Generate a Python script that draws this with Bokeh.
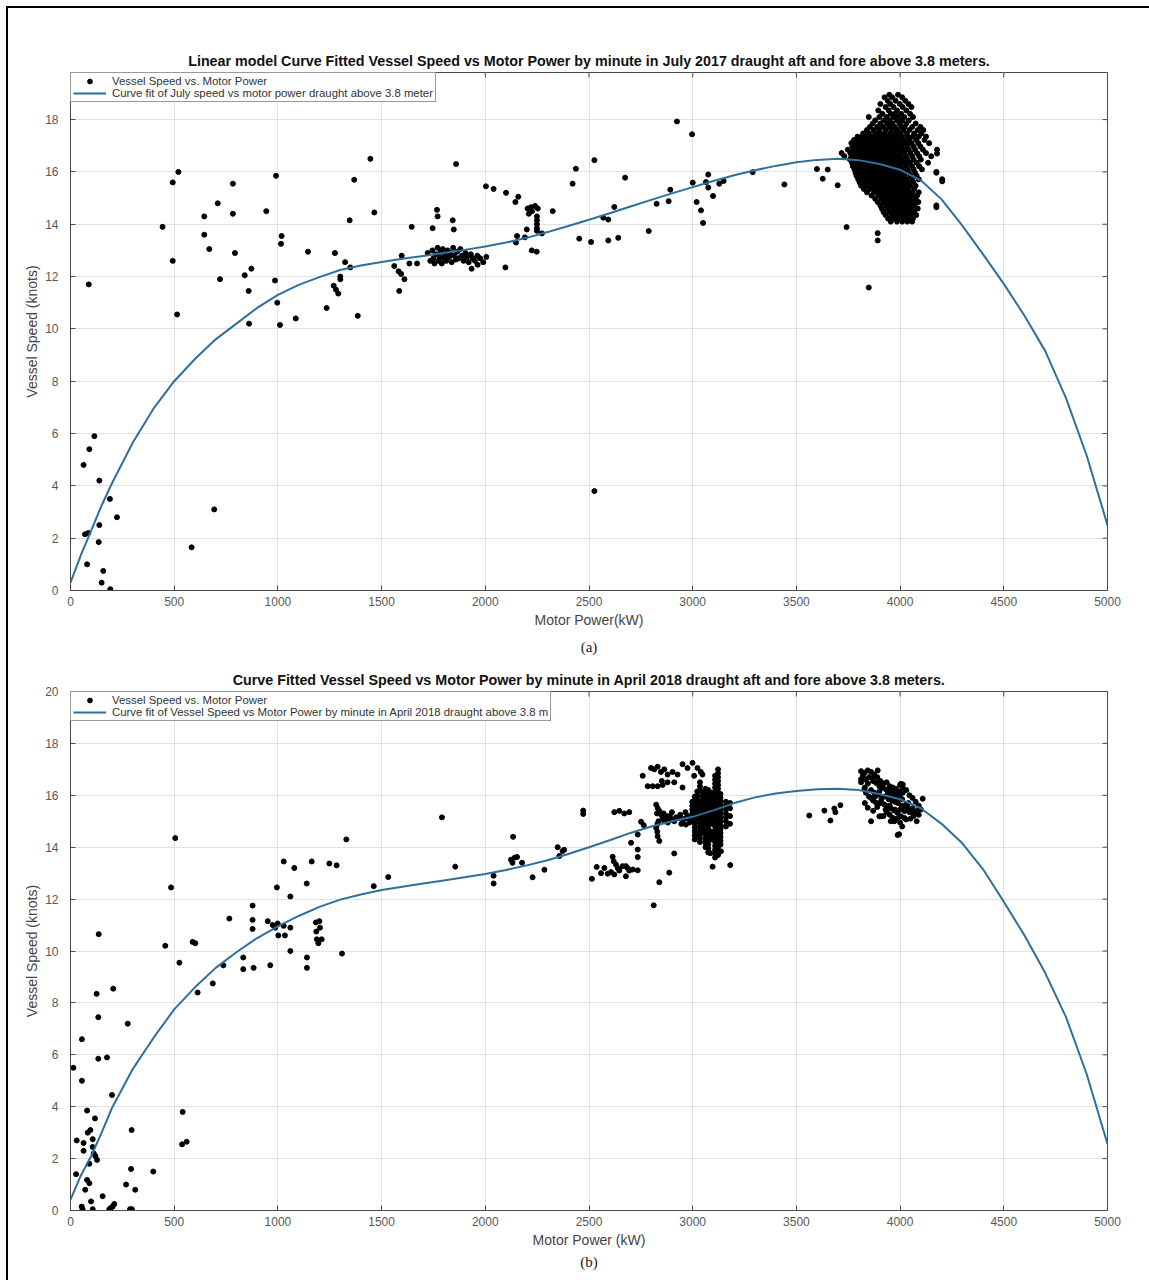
from bokeh.plotting import figure
from bokeh.models import Legend, LegendItem, Title, FixedTicker, Range1d
from bokeh.layouts import column
from bokeh.embed import file_html
from bokeh.resources import INLINE

# ---------------- shared ticks / texts ----------------
x_ticks = [0, 500, 1000, 1500, 2000, 2500, 3000, 3500, 4000, 4500, 5000]
a_y_ticks = [0, 2, 4, 6, 8, 10, 12, 14, 16, 18]
b_y_ticks = [0, 2, 4, 6, 8, 10, 12, 14, 16, 18, 20]

a_title = "Linear model Curve Fitted Vessel Speed vs Motor Power by minute in July 2017 draught aft and fore above 3.8 meters."
a_leg_pts = "Vessel Speed vs. Motor Power"
a_leg_fit = "Curve fit of July speed vs motor power draught above 3.8 meter"
a_xlabel = "Motor Power(kW)"
b_title = "Curve Fitted Vessel Speed vs Motor Power by minute in April 2018 draught aft and fore above 3.8 meters."
b_leg_pts = "Vessel Speed vs. Motor Power"
b_leg_fit = "Curve fit of Vessel Speed vs Motor Power by minute in April 2018 draught above 3.8 m"
b_xlabel = "Motor Power (kW)"
y_label = "Vessel Speed (knots)"

# ---------------- panel (a): July 2017 ----------------
a_power = [88, 63, 91, 115, 139, 190, 224, 139, 70, 86, 136, 80, 158, 150, 192, 584, 693,
           444, 493, 520, 493, 514, 645, 645, 669, 710, 721, 783, 783, 793, 840, 872, 859, 861,
           944, 991, 986, 997, 1010, 1018, 1015, 1086, 1145, 1235, 1275, 1269, 1280, 1291, 1301,
           1301, 1324, 1346, 1368, 1349, 1385, 1446, 1465, 1561, 1582, 1594, 1610, 1585, 1597,
           1645, 1634, 1671, 1746, 1767, 1770, 1843, 1848, 1859,
           1722, 1735, 1745, 1750, 1755, 1762, 1770, 1775, 1780, 1785, 1790, 1795, 1800, 1805,
           1812, 1818, 1825, 1830, 1838, 1845, 1850, 1858, 1865, 1872, 1880, 1888, 1895, 1905,
           1912, 1920, 1930, 1940, 1950, 1962, 1975, 1990, 2005,
           1934, 1963, 2003, 2040, 2100, 2097, 2145, 2159, 2148, 2153, 2191, 2200, 2204, 2220,
           2240, 2253, 2210, 2225, 2249, 2249, 2249, 2249, 2249, 2224, 2248, 2273, 2325, 2421,
           2437, 2453, 2510, 2526, 2526, 2569, 2593, 2593, 2641, 2622, 2674, 2788, 2826, 2884,
           2892, 2924, 2997, 3000, 3019, 3040, 3050, 3064, 3075, 3075, 3098, 3128, 3149, 3289,
           3442, 3599, 3627, 3651, 3699, 3742, 3849, 3892, 3892, 4178, 4175, 4203, 4175]
a_speed = [11.7, 4.8, 5.4, 5.9, 4.2, 3.5, 2.8, 2.5, 2.15, 2.2, 1.85, 1.0, 0.75, 0.3, 0.05, 1.65, 3.1,
           13.9, 15.6, 16.0, 12.6, 10.55, 14.3, 13.6, 13.05, 14.8, 11.9, 15.55, 14.4, 12.9, 12.05, 12.3, 11.45, 10.2,
           14.5, 15.85, 11.85, 11.0, 10.15, 13.55, 13.25, 10.4, 12.95, 10.8, 12.9, 11.65, 11.5, 11.35, 12.0,
           11.9, 12.55, 14.15, 15.7, 12.35, 10.5, 16.5, 14.45, 12.4, 12.2, 12.1, 11.9, 11.45, 12.8,
           13.9, 12.5, 12.5, 13.85, 14.55, 14.3, 14.15, 13.8, 16.3,
           12.9, 12.6, 13.0, 12.7, 12.5, 12.85, 13.1, 12.6, 12.75, 12.95, 12.5, 13.05, 12.7, 12.85,
           12.6, 13.0, 12.75, 12.9, 12.55, 13.1, 12.8, 12.65, 12.95, 12.7, 13.05, 12.8, 12.6, 12.9,
           12.75, 12.55, 12.85, 12.7, 12.6, 12.8, 12.7, 12.55, 12.75,
           12.3, 12.45, 15.45, 15.35, 15.2, 12.35, 14.85, 15.05, 13.3, 13.55, 13.5, 13.8, 14.6, 14.65,
           14.7, 14.6, 14.4, 14.5, 14.3, 14.15, 14.0, 13.85, 13.75, 13.0, 12.95, 13.65, 14.5, 15.55,
           16.12, 13.45, 13.32, 16.45, 3.8, 14.25, 14.18, 13.38, 13.48, 14.66, 15.78, 13.74, 14.78, 14.88,
           15.32, 17.93, 17.44, 15.59, 14.85, 14.53, 14.05, 15.61, 15.9, 15.4, 15.08, 15.55, 15.65, 15.99,
           15.52, 16.11, 15.74, 16.09, 15.49, 13.89, 11.58, 13.66, 13.38, 16.7, 16.0, 15.64, 14.65]

# dense cluster of panel (a) near 3700-4200 kW, read row by row
a_cluster_speed = [18.95, 18.85, 18.72, 18.6, 18.48, 18.35, 18.22, 18.1, 17.97, 17.85, 17.72,
                   17.6, 17.47, 17.35, 17.22, 17.1, 16.97, 16.85, 16.72, 16.6, 16.47, 16.35,
                   16.22, 16.1, 15.97, 15.85, 15.72, 15.6, 15.47, 15.35, 15.22, 15.1, 14.97,
                   14.85, 14.72, 14.6, 14.47, 14.35, 14.22, 14.1]
a_cluster_power = [
    [3948, 3990],
    [3925, 3962, 4010],
    [3940, 3978, 4025],
    [3905, 3952, 3998, 4040],
    [3930, 3968, 4012, 4055],
    [3895, 3945, 3985, 4030],
    [3915, 3955, 3975, 4005, 4048],
    [3849, 3900, 3935, 3968, 3992, 4020, 4062],
    [3880, 3922, 3950, 3983, 4010, 4042],
    [3868, 3905, 3938, 3962, 3998, 4030, 4075],
    [3855, 3890, 3918, 3948, 3975, 4005, 4022, 4058, 4098],
    [3840, 3872, 3900, 3930, 3958, 3985, 4015, 4045, 4085, 4112],
    [3822, 3850, 3880, 3905, 3925, 3952, 3978, 4002, 4032, 4068, 4102],
    [3795, 3818, 3842, 3865, 3888, 3912, 3936, 3960, 3985, 4010, 4038, 4062, 4090, 4125],
    [3778, 3805, 3828, 3850, 3872, 3896, 3918, 3942, 3968, 3992, 4018, 4045, 4078, 4118],
    [3765, 3790, 3812, 3835, 3858, 3880, 3902, 3925, 3950, 3975, 4000, 4028, 4055, 4088, 4140],
    [3770, 3795, 3818, 3842, 3865, 3888, 3910, 3935, 3958, 3982, 4008, 4035, 4065, 4098],
    [3748, 3775, 3800, 3822, 3845, 3870, 3892, 3915, 3940, 3965, 3990, 4015, 4042, 4072, 4110, 4178],
    [3718, 3760, 3783, 3806, 3828, 3852, 3875, 3898, 3922, 3946, 3970, 3995, 4022, 4050, 4082, 4125],
    [3731, 3765, 3790, 3812, 3835, 3858, 3880, 3905, 3928, 3952, 3976, 4000, 4028, 4058, 4092, 4150],
    [3758, 3778, 3800, 3822, 3845, 3868, 3890, 3912, 3935, 3960, 3985, 4010, 4035, 4065, 4100],
    [3768, 3790, 3812, 3835, 3858, 3880, 3902, 3925, 3948, 3972, 3998, 4022, 4048, 4080, 4135],
    [3772, 3795, 3818, 3840, 3862, 3885, 3908, 3932, 3955, 3980, 4004, 4030, 4058, 4092],
    [3780, 3802, 3825, 3848, 3870, 3892, 3915, 3938, 3962, 3986, 4010, 4036, 4065, 4105],
    [3785, 3808, 3830, 3852, 3875, 3898, 3920, 3944, 3968, 3992, 4016, 4042, 4072, 4175],
    [3790, 3815, 3838, 3860, 3882, 3905, 3928, 3950, 3975, 3998, 4022, 4050, 4080],
    [3798, 3820, 3845, 3868, 3890, 3912, 3935, 3958, 3982, 4005, 4030, 4058, 4090, 4203],
    [3805, 3830, 3855, 3878, 3900, 3922, 3945, 3968, 3990, 4012, 4038, 4065],
    [3812, 3840, 3865, 3888, 3910, 3932, 3955, 3978, 4000, 4022, 4048, 4075],
    [3825, 3855, 3880, 3902, 3925, 3948, 3970, 3992, 4015, 4040, 4068],
    [3840, 3875, 3900, 3922, 3945, 3968, 3990, 4012, 4035, 4060, 4090],
    [3862, 3895, 3918, 3940, 3962, 3985, 4008, 4030, 4055, 4082],
    [3880, 3910, 3932, 3955, 3978, 4000, 4022, 4048, 4075],
    [3892, 3920, 3945, 3968, 3990, 4012, 4035, 4060, 4088],
    [3905, 3932, 3955, 3978, 4000, 4022, 4045, 4070, 4175],
    [3912, 3940, 3965, 3988, 4010, 4032, 4058, 4085],
    [3920, 3948, 3972, 3995, 4018, 4042, 4068],
    [3930, 3958, 3982, 4005, 4028, 4052, 4078],
    [3942, 3968, 3990, 4015, 4038, 4062],
    [3955, 3985, 4010, 4035, 4058],
]

a_fit_power = [0, 50, 100, 150, 200, 300, 400, 500, 600, 700, 800, 900, 1000, 1100, 1200, 1300,
               1400, 1500, 1600, 1700, 1800, 1900, 2000, 2100, 2200, 2300, 2400, 2500, 2600,
               2700, 2800, 2900, 3000, 3100, 3200, 3300, 3400, 3500, 3600, 3700, 3800, 3900,
               4000, 4100, 4200, 4300, 4400, 4500, 4600, 4700, 4800, 4900, 5000]
a_fit_speed = [0.3, 1.35, 2.3, 3.25, 4.1, 5.65, 6.95, 8.0, 8.85, 9.6, 10.2, 10.8, 11.3, 11.68,
               11.98, 12.25, 12.42, 12.56, 12.68, 12.79, 12.9, 13.02, 13.15, 13.3, 13.48, 13.7,
               13.93, 14.17, 14.42, 14.68, 14.93, 15.18, 15.42, 15.65, 15.87, 16.06, 16.23,
               16.37, 16.46, 16.5, 16.45, 16.3, 16.08, 15.68, 14.95, 13.95, 12.85, 11.72, 10.5,
               9.15, 7.35, 5.15, 2.5]

# ---------------- panel (b): April 2018 ----------------
b_power = [14, 30, 27, 55, 55, 63, 63, 54, 58, 80, 83, 96, 80, 91, 71, 91, 99, 107, 107, 107,
           112, 120, 118, 128, 136, 126, 134, 134, 176, 200, 206, 155, 187, 195, 203, 211, 276,
           268, 295, 292, 287, 296, 312, 399, 457, 485, 505, 525, 541, 538, 560, 589, 602, 613,
           686, 737, 766, 833, 833, 878, 878, 878, 883, 951, 963, 975, 987, 995, 999, 1002, 1028,
           1034, 1060, 1028, 1060, 1060, 1079, 1139, 1140, 1140, 1163, 1183, 1185, 1188, 1195,
           1200, 1203, 1211, 1248, 1283, 1309, 1330, 1462, 1532, 1791, 1855, 2040, 2040, 2134,
           2124, 2131, 2142, 2153, 2177, 2228, 2285, 2349, 2357, 2373, 2380,
           2472, 2472, 2514, 2537, 2558, 2574, 2590, 2606, 2622, 2630, 2638, 2646, 2662, 2678,
           2686, 2694, 2711, 2735, 2614, 2619, 2678, 2622, 2646, 2670, 2694, 2703, 2735, 2735,
           2735, 2751, 2764, 2759, 2783, 2807, 2831, 2855, 2799, 2815, 2831, 2847, 2863, 2879,
           2903, 2927, 2951, 2975, 2999, 3023, 3039, 3047, 2851, 2879, 2911, 2951, 3007,
           2824, 2831, 2839, 2847, 2855, 2863, 2879, 2895, 2911, 2935, 2951, 2967, 2982,
           2824, 2831, 2839, 2829, 2911, 2887, 2839, 2812,
           2870, 2890, 2905, 2920, 2940, 2960, 2975, 2985, 2860, 2880, 2900, 2945, 2965, 2830,
           2835, 2828,
           3812, 3828, 3844, 3860, 3876, 3892, 3812, 3812, 3828, 3868, 3884, 3900, 3917, 3933,
           3949, 3965, 3981, 3997, 4013, 3860, 3884, 3908, 3924, 3940, 3956, 3972, 3988, 4004,
           4021, 4029, 4037, 4053, 4069, 4085, 4109, 3844, 3860, 3900, 3908, 3965, 3972, 3988,
           4021, 4029, 4004, 4013, 4013, 3562, 3635, 3664, 3683, 3688, 3712,
           3820, 3835, 3850, 3845, 3870, 3890, 3905, 3920, 3935, 3950, 3965, 3980, 3995, 4030,
           4045, 4060, 4075, 4090, 3880, 3895, 3910, 3925, 3945, 3960, 3975, 3990, 4008, 4020,
           3935, 3950, 3985, 4000, 4010, 3955, 3870, 3890, 4050, 4065, 4080, 3995, 4000, 3920,
           3835, 3850, 3096, 3181, 3085, 3136,
           3830, 3860, 3875, 3900, 3940, 3960, 3990, 4010, 4040, 4060, 3905, 3950, 4000, 4045,
           4090, 3870, 3830, 4100, 3975, 3930]
b_speed = [5.5, 2.7, 1.4, 6.6, 5.0, 2.6, 2.3, 0.15, 0.05, 3.85, 3.0, 3.1, 1.18, 1.05, 0.8, 1.8,
           0.35, 0.05, 2.75, 2.45, 2.2, 2.1, 3.55, 1.95, 10.65, 8.35, 7.45, 5.85, 5.9, 4.45, 8.55,
           0.55, 0.05, 0.1, 0.15, 0.25, 7.2, 1.0, 3.1, 1.6, 0.05, 0.05, 0.8, 1.5, 10.2, 12.45,
           14.35, 9.55, 3.8, 2.55, 2.65, 10.35, 10.3, 8.4, 8.75, 9.45, 11.25, 9.75, 9.3, 11.75,
           11.2, 10.85, 9.35, 11.15, 9.45, 11.0, 10.9, 12.45, 11.06, 10.6, 10.97, 10.6, 10.9,
           13.45, 12.1, 10.0, 13.2, 12.6, 9.75, 9.35, 13.45, 11.1, 10.75, 10.45, 10.3, 11.15,
           10.9, 10.45, 13.37, 13.3, 9.9, 14.3, 12.5, 12.85, 15.15, 13.25, 12.9, 12.6, 14.4,
           13.52, 13.4, 13.6, 13.62, 13.4, 12.84, 13.13, 14.0, 13.66, 13.85, 13.9,
           15.41, 15.28, 12.78, 13.24, 13.0, 13.2, 12.98, 13.04, 12.95, 13.33, 13.2, 13.1, 13.27,
           12.88, 13.2, 13.1, 13.14, 13.11, 13.63, 13.46, 13.27, 15.35, 15.4, 15.3, 15.35, 14.17,
           14.49, 13.91, 13.62, 14.98, 14.85, 16.75, 16.35, 16.35, 16.35, 16.4, 17.05, 17.0, 17.1,
           16.9, 17.0, 16.8, 16.9, 16.8, 17.2, 17.05, 17.25, 17.05, 16.9, 16.8, 16.55, 16.5, 16.5,
           16.3, 16.75,
           15.64, 15.51, 15.4, 15.26, 15.13, 15.0, 15.19, 15.07, 15.0, 15.13, 14.94, 14.87, 15.07,
           14.75, 14.42, 14.24, 14.6, 13.76, 13.02, 12.65, 11.76,
           15.1, 15.2, 15.05, 15.15, 15.25, 15.1, 15.2, 14.95, 15.3, 14.95, 15.35, 14.9, 15.35,
           14.9, 15.0, 15.3,
           16.93, 16.87, 16.96, 16.9, 16.8, 16.96, 16.62, 16.5, 16.24, 16.67, 16.48, 16.35, 16.29,
           16.22, 16.16, 16.09, 16.03, 15.97, 16.42, 15.9, 15.71, 15.78, 15.65, 15.58, 15.49,
           15.41, 15.32, 15.19, 15.39, 15.65, 15.52, 15.45, 15.32, 15.41, 15.87, 15.52, 15.0,
           15.19, 15.19, 15.13, 15.0, 14.47, 15.13, 15.07, 16.44, 16.29, 16.1, 15.22, 15.41,
           15.03, 15.49, 15.35, 15.62,
           16.75, 16.6, 16.7, 16.45, 16.55, 16.7, 16.55, 16.45, 16.5, 16.35, 16.3, 16.25, 16.15,
           16.2, 16.0, 15.9, 15.75, 15.6, 15.95, 16.05, 15.9, 15.95, 15.85, 15.8, 15.75, 15.7,
           15.6, 15.55, 15.35, 15.25, 15.1, 14.95, 14.8, 15.0, 15.4, 15.55, 15.1, 15.2, 15.0,
           14.5, 16.4, 15.2, 16.1, 15.95, 13.25, 13.31, 13.77, 13.84,
           16.3, 16.2, 16.1, 16.15, 16.05, 15.95, 15.9, 15.85, 15.7, 15.5, 15.7, 15.6, 15.45,
           15.35, 15.25, 15.8, 15.7, 15.45, 15.45, 15.45]

# streaky cluster of panel (b) near 3000-3180 kW, read column by column
b_streak_power = [2998, 3010, 3022, 3035, 3048, 3062, 3075, 3090, 3108, 3122, 3134, 3160, 3180]
b_streak_speed = [
    [15.0, 15.15, 15.3, 15.45, 15.6, 15.75],
    [14.3, 14.45, 14.6, 14.75, 14.9, 15.05, 15.2, 15.35, 15.5, 15.65, 15.8, 15.95],
    [14.5, 15.1, 15.25, 15.4, 15.55, 15.7, 15.85, 16.0, 16.15],
    [14.2, 14.35, 14.5, 14.65, 14.8, 14.95, 15.1, 15.25, 15.4, 15.55, 15.7, 16.2, 16.35, 16.5],
    [14.6, 14.75, 14.9, 15.05, 15.2, 15.35, 15.5, 15.65, 15.8, 15.95, 16.1],
    [14.0, 14.15, 14.3, 14.45, 14.6, 14.75, 14.9, 15.05, 15.2, 15.35, 15.5, 15.65, 15.8, 15.95,
     16.1, 16.25],
    [13.8, 13.95, 14.1, 14.25, 14.4, 14.55, 14.7, 14.85, 15.0, 15.15, 15.3, 15.45, 15.6, 15.75,
     15.9, 16.05, 16.2],
    [14.3, 14.45, 14.6, 14.9, 15.05, 15.2, 15.35, 15.5, 15.65, 15.8, 15.95, 16.1],
    [13.6, 13.75, 13.9, 14.05, 14.2, 14.35, 14.5, 14.65, 14.8, 14.95, 15.1, 15.25, 15.4, 15.55,
     15.7, 15.85, 16.0, 16.15, 16.3, 16.45, 16.6, 16.75],
    [13.7, 13.85, 14.0, 14.15, 14.3, 14.45, 14.6, 14.75, 14.9, 15.05, 15.2, 15.35, 15.5, 15.65,
     15.8, 15.95, 16.1, 16.25, 16.4, 16.55, 16.7, 16.85, 17.0],
    [14.1, 14.25, 14.4, 14.55, 14.7, 14.85, 15.0, 15.15, 15.3, 15.45, 15.6, 15.75, 15.9, 16.05],
    [14.8, 15.0, 15.15, 15.3, 15.45, 15.6, 15.75],
    [14.9, 15.2, 15.5, 15.7],
]

b_fit_power = [0, 50, 100, 150, 200, 300, 400, 500, 600, 700, 800, 900, 1000, 1100, 1200, 1300,
               1400, 1500, 1600, 1700, 1800, 1900, 2000, 2100, 2200, 2300, 2400, 2500, 2600,
               2700, 2800, 2900, 3000, 3100, 3200, 3300, 3400, 3500, 3600, 3700, 3800, 3900,
               4000, 4100, 4200, 4300, 4400, 4500, 4600, 4700, 4800, 4900, 5000]
b_fit_speed = [0.42, 1.35, 2.1, 3.0, 3.95, 5.45, 6.65, 7.75, 8.6, 9.35, 9.95, 10.5, 10.95, 11.35,
               11.7, 11.98, 12.18, 12.35, 12.48, 12.6, 12.72, 12.84, 12.97, 13.12, 13.3, 13.5,
               13.74, 14.0, 14.27, 14.55, 14.8, 15.0, 15.17, 15.42, 15.7, 15.92, 16.07, 16.17,
               16.23, 16.25, 16.2, 16.05, 15.85, 15.5, 14.9, 14.15, 13.15, 11.9, 10.6, 9.15,
               7.45, 5.25, 2.56]


def rows_to_points(row_speed, row_power):
    xs, ys = [], []
    for s, row in zip(row_speed, row_power):
        for pw in row:
            xs.append(pw)
            ys.append(s)
    return xs, ys


def cols_to_points(col_power, col_speed):
    xs, ys = [], []
    for pw, col in zip(col_power, col_speed):
        for s in col:
            xs.append(pw)
            ys.append(s)
    return xs, ys


AX = "#4a4a4a"
TXT = "#585858"
FIT = "#2f6f9c"
FW = 1037


def panel(title, leg_pts, leg_fit, xlabel, sub, px, py, fx, fy, ymax, yticks,
          frame_h, top, bottom, sub_standoff):
    p = figure(frame_width=FW, frame_height=frame_h,
               x_range=Range1d(0, 5000), y_range=Range1d(0, ymax),
               output_backend="svg", toolbar_location=None,
               min_border_left=62, min_border_right=42,
               min_border_top=top, min_border_bottom=bottom,
               background_fill_color="white", border_fill_color="white")
    p.outline_line_color = AX
    p.title.text = title
    p.title.align = "center"
    p.title.text_font = "Liberation Sans"
    p.title.text_font_size = "14.3px"
    p.title.text_font_style = "bold"
    p.title.text_color = "#111111"
    p.title.standoff = 8

    for ax, ticks in ((p.xaxis[0], x_ticks), (p.yaxis[0], yticks)):
        ax.ticker = FixedTicker(ticks=ticks)
        ax.major_tick_in = 5
        ax.major_tick_out = 0
        ax.minor_tick_line_color = None
        ax.axis_line_color = AX
        ax.major_tick_line_color = AX
        ax.major_label_text_font = "Liberation Sans"
        ax.major_label_text_font_size = "12px"
        ax.major_label_text_color = TXT
        ax.axis_label_text_font = "Liberation Sans"
        ax.axis_label_text_font_size = "14px"
        ax.axis_label_text_font_style = "normal"
        ax.axis_label_text_color = "#444444"
    p.xaxis[0].axis_label = xlabel
    p.xaxis[0].major_label_standoff = 6
    p.xaxis[0].axis_label_standoff = 3
    p.yaxis[0].axis_label = y_label
    p.yaxis[0].major_label_standoff = 12
    p.yaxis[0].axis_label_standoff = 2

    # mirrored inward ticks on the top and right edges of the box
    tl_y = 5.0 * ymax / frame_h
    tl_x = 5.0 * 5000 / FW
    p.segment(x0=x_ticks, y0=[ymax] * len(x_ticks), x1=x_ticks, y1=[ymax - tl_y] * len(x_ticks),
              line_color=AX, line_width=1)
    p.segment(x0=[5000] * len(yticks), y0=yticks, x1=[5000 - tl_x] * len(yticks), y1=yticks,
              line_color=AX, line_width=1)

    p.xgrid.ticker = FixedTicker(ticks=x_ticks)
    p.ygrid.ticker = FixedTicker(ticks=yticks)
    p.grid.grid_line_color = "#e2e2e2"
    p.grid.grid_line_width = 1

    sc = p.scatter(px, py, size=5, marker="circle", fill_color="black", line_color="black")
    ln = p.line(fx, fy, line_color=FIT, line_width=2)

    leg = Legend(items=[LegendItem(label=leg_pts, renderers=[sc]),
                        LegendItem(label=leg_fit, renderers=[ln])],
                 location="top_left")
    leg.margin = 0
    leg.padding = 2
    leg.spacing = 0
    leg.border_line_color = "#333333"
    leg.border_line_width = 1
    leg.background_fill_alpha = 1
    leg.label_text_font = "Liberation Sans"
    leg.label_text_font_size = "11.4px"
    leg.label_text_color = "#333333"
    leg.label_height = 12
    leg.glyph_height = 12
    leg.glyph_width = 33
    leg.label_standoff = 6
    p.add_layout(leg)

    p.add_layout(Title(text=sub, align="center", text_font="Liberation Serif",
                       text_font_size="15px", text_font_style="normal",
                       text_color="#222222", standoff=sub_standoff), "below")
    return p


acx, acy = rows_to_points(a_cluster_speed, a_cluster_power)
bcx, bcy = cols_to_points(b_streak_power, b_streak_speed)

pa = panel(a_title, a_leg_pts, a_leg_fit, a_xlabel, "(a)",
           a_power + acx, a_speed + acy, a_fit_power, a_fit_speed,
           19.8, a_y_ticks, 518, 64, 75, 13)
pb = panel(b_title, b_leg_pts, b_leg_fit, b_xlabel, "(b)",
           b_power + bcx, b_speed + bcy, b_fit_power, b_fit_speed,
           20, b_y_ticks, 519, 25, 71, 2)

layout = column(pa, pb, margin=(6, 0, 0, 6),
                styles={"border-left": "2px solid black", "border-top": "2px solid black"})

open("out.html", "w").write(file_html(layout, INLINE))
